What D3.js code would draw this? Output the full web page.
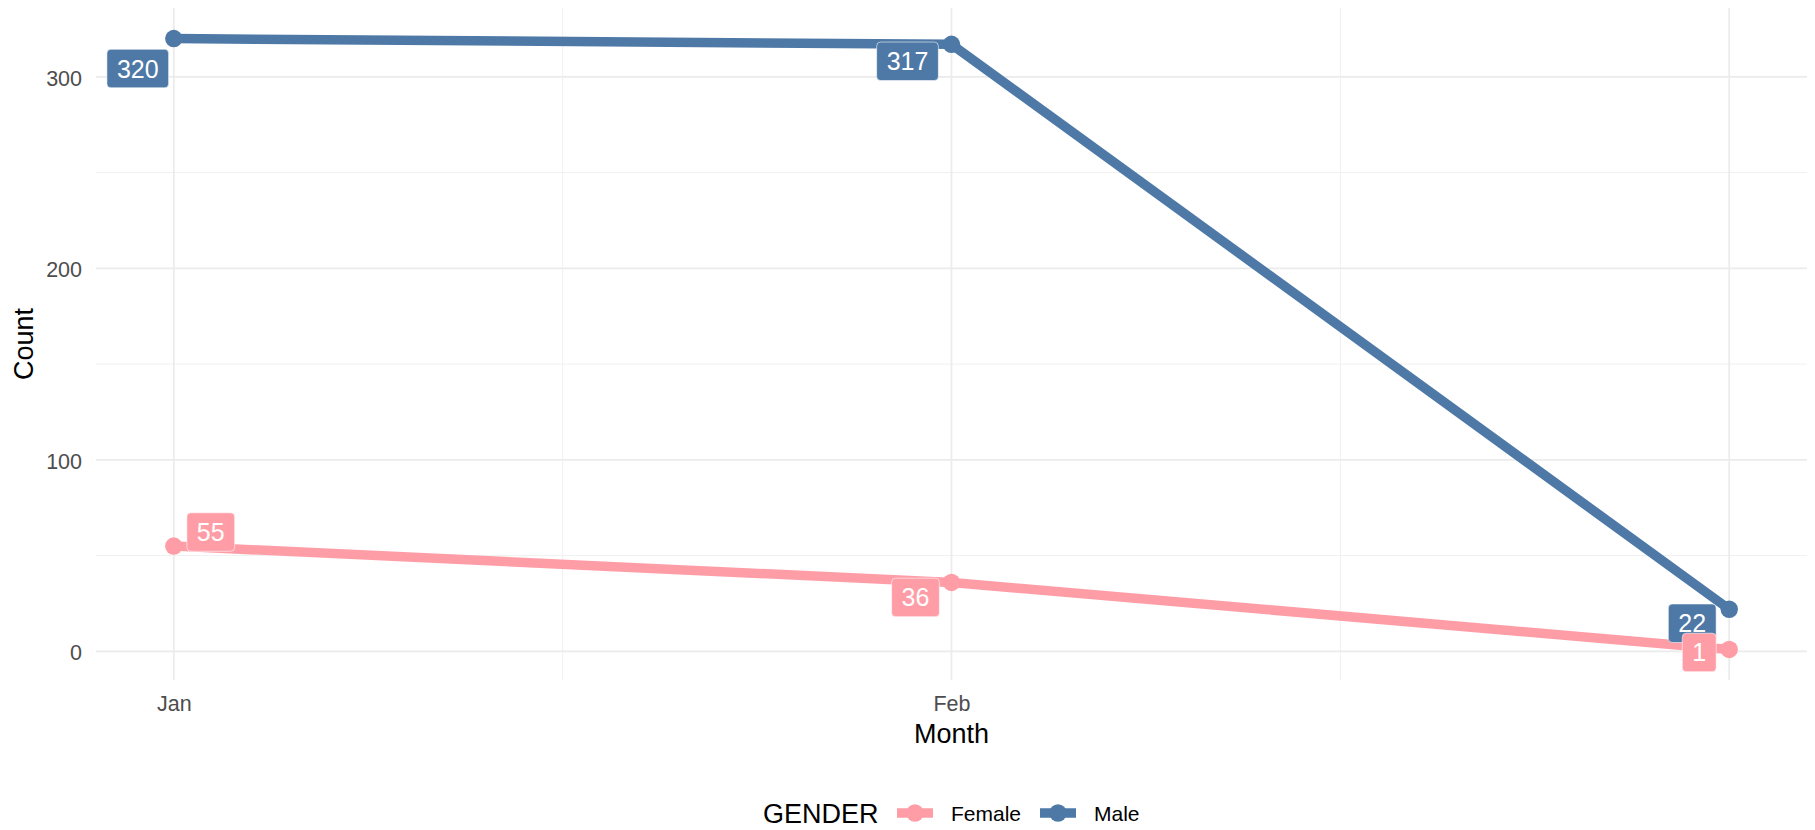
<!DOCTYPE html>
<html>
<head>
<meta charset="utf-8">
<script src="https://cdn.jsdelivr.net/npm/d3@7"></script>
<style>
  html, body { margin: 0; padding: 0; background: #fff; }
  svg { display: block; font-family: "Liberation Sans", Arial, sans-serif; }
</style>
</head>
<body>
<div id="chart"></div>
<script>
"use strict";

// ---- data ----
const months = [1, 2, 3];
const monthNames = ["Jan", "Feb", "Mar"];
const xTickLabels = ["Jan", "Feb"];           // only these two are labelled in the original
const genders = ["Female", "Male"];
const femaleCounts = [55, 36, 1];
const maleCounts = [320, 317, 22];
const yTicks = [0, 100, 200, 300];
const yMinorTicks = [50, 150, 250];

// ---- layout ----
const W = 1815, H = 830;
const panel = { left: 96, right: 1807, top: 8, bottom: 680 };
const colors = { Female: "#FF9DA7", Male: "#4E79A7" };

// label offsets from the point (px), roughly where ggrepel put them
const labelNudge = {
    Male:   [[-36, 30], [-44, 17], [-37, 14]],
    Female: [[37, -14], [-36, 15], [-30, 3]]
};

const series = genders.map(g => ({
    key: g,
    values: months.map((m, i) => ({ month: m, count: g == "Male" ? maleCounts[i] : femaleCounts[i] }))
}));

// ggplot style 5% expansion
function expand(ext, f) {
    let d = (ext[1] - ext[0]) * f;
    return [ext[0] - d, ext[1] + d];
}

const allCounts = femaleCounts.concat(maleCounts);

const x = d3.scaleLinear()
    .domain(expand(d3.extent(months), 0.05))
    .range([panel.left, panel.right]);

const y = d3.scaleLinear()
    .domain(expand(d3.extent(allCounts), 0.05))
    .range([panel.bottom, panel.top]);

const svg = d3.select("#chart")
    .append("svg")
    .attr("width", W)
    .attr("height", H);

// ---- grid ----
const grid = svg.append("g");

grid.selectAll("line.ymin")
    .data(yMinorTicks)
    .enter()
    .append("line")
    .attr("x1", panel.left).attr("x2", panel.right)
    .attr("y1", d => y(d)).attr("y2", d => y(d))
    .attr("stroke", "#F0F0F0").attr("stroke-width", 1);

grid.selectAll("line.xmin")
    .data([1.5, 2.5])
    .enter()
    .append("line")
    .attr("y1", panel.top).attr("y2", panel.bottom)
    .attr("x1", d => x(d)).attr("x2", d => x(d))
    .attr("stroke", "#F0F0F0").attr("stroke-width", 1);

grid.selectAll("line.ymaj")
    .data(yTicks)
    .enter()
    .append("line")
    .attr("x1", panel.left).attr("x2", panel.right)
    .attr("y1", d => y(d)).attr("y2", d => y(d))
    .attr("stroke", "#EBEBEB").attr("stroke-width", 1.7);

grid.selectAll("line.xmaj")
    .data(months)
    .enter()
    .append("line")
    .attr("y1", panel.top).attr("y2", panel.bottom)
    .attr("x1", d => x(d)).attr("x2", d => x(d))
    .attr("stroke", "#EBEBEB").attr("stroke-width", 1.7);

// ---- axes (text only, theme_minimal) ----
const yAxis = svg.append("g")
    .attr("transform", `translate(${panel.left - 6},0)`)
    .call(d3.axisLeft(y).tickValues(yTicks).tickSize(0).tickPadding(8));

const xAxis = svg.append("g")
    .attr("transform", `translate(0,${panel.bottom})`)
    .call(d3.axisBottom(x)
        .tickValues(months.slice(0, xTickLabels.length))
        .tickFormat((d, i) => xTickLabels[i])
        .tickSize(0).tickPadding(16));

[yAxis, xAxis].forEach(a => {
    a.select(".domain").remove();
    a.selectAll("text")
        .attr("fill", "#4D4D4D")
        .style("font-size", "21.5px")
        .style("font-family", "'Liberation Sans', Arial, sans-serif");
});
yAxis.selectAll("text").attr("dy", "0.4em");

svg.append("text")
    .text("Month")
    .attr("x", (panel.left + panel.right) / 2)
    .attr("y", 743)
    .attr("text-anchor", "middle")
    .style("font-size", "27px")
    .attr("fill", "#000");

svg.append("text")
    .text("Count")
    .attr("transform", `translate(33,${(panel.top + panel.bottom) / 2}) rotate(-90)`)
    .attr("text-anchor", "middle")
    .style("font-size", "27px")
    .attr("fill", "#000");

// ---- lines & points ----
const line = d3.line()
    .x(d => x(d.month))
    .y(d => y(d.count));

const seriesG = svg.append("g")
    .selectAll("g")
    .data(series)
    .enter()
    .append("g");

seriesG.append("path")
    .attr("d", d => line(d.values))
    .attr("fill", "none")
    .attr("stroke", d => colors[d.key])
    .attr("stroke-width", 9.5)
    .attr("stroke-linejoin", "round");

seriesG.selectAll("circle")
    .data(d => d.values.map(v => Object.assign({ key: d.key }, v)))
    .enter()
    .append("circle")
    .attr("cx", d => x(d.month))
    .attr("cy", d => y(d.count))
    .attr("r", 8.7)
    .attr("fill", d => colors[d.key]);

// ---- labels (male first so female "1" sits on top of "22") ----
const labelData = [];
["Male", "Female"].forEach(g => {
    series.find(s => s.key == g).values.forEach((v, i) => {
        labelData.push({ key: g, month: v.month, count: v.count, nudge: labelNudge[g][i] });
    });
});

const labels = svg.append("g")
    .selectAll("g")
    .data(labelData)
    .enter()
    .append("g")
    .attr("transform", d => `translate(${x(d.month) + d.nudge[0]},${y(d.count) + d.nudge[1]})`);

labels.append("text")
    .text(d => d.count)
    .attr("text-anchor", "middle")
    .attr("dy", "0.36em")
    .style("font-size", "25px")
    .attr("fill", "#fff");

labels.each(function() {
    let g = d3.select(this),
        w = g.select("text").node().getComputedTextLength() + 20,
        h = 38.5;
    g.insert("rect", "text")
        .attr("x", -w / 2)
        .attr("y", -h / 2)
        .attr("width", w)
        .attr("height", h)
        .attr("rx", 4)
        .attr("fill", d => colors[d.key])
        .attr("stroke", "#fff")
        .attr("stroke-opacity", 0.7)
        .attr("stroke-width", 0.8);
});

// ---- legend ----
const legend = svg.append("g").attr("transform", "translate(0,813)");

legend.append("text")
    .text("GENDER")
    .attr("x", 763)
    .attr("y", 10)
    .style("font-size", "27px")
    .attr("fill", "#000");

const keyX = { Female: 897, Male: 1040 };

const keys = legend.selectAll("g.key")
    .data(genders)
    .enter()
    .append("g")
    .attr("transform", d => `translate(${keyX[d]},0)`);

keys.append("line")
    .attr("x1", 0).attr("x2", 36)
    .attr("y1", 0).attr("y2", 0)
    .attr("stroke", d => colors[d])
    .attr("stroke-width", 9.5);

keys.append("circle")
    .attr("cx", 18).attr("cy", 0)
    .attr("r", 8.7)
    .attr("fill", d => colors[d]);

keys.append("text")
    .text(d => d)
    .attr("x", 54)
    .attr("y", 7.5)
    .style("font-size", "21px")
    .attr("fill", "#000");
</script>
</body>
</html>
